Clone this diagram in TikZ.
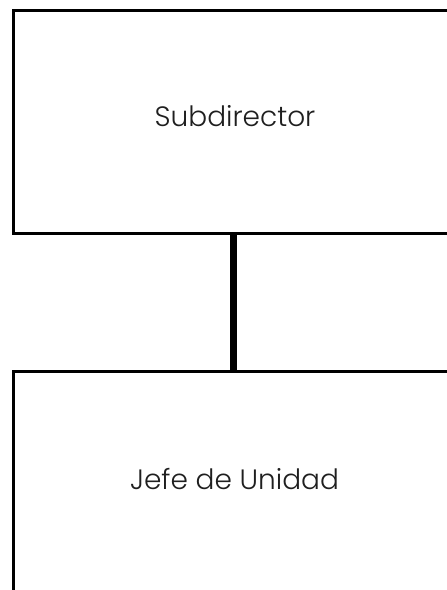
\documentclass[tikz,border=0pt]{standalone}
\usepackage{fontspec}
\setmainfont{Poppins Light}
\begin{document}
\begin{tikzpicture}[x=1pt,y=1pt,
  boxst/.style={draw=black, line width=3pt, rectangle, inner sep=0pt, fill=white},
  lbl/.style={font=\fontsize{28}{33}\selectfont, text=black!88},
  conn/.style={draw=black, line width=7pt}]
\useasboundingbox (0,0) rectangle (447,590);
\node[boxst, minimum width=470pt, minimum height=223pt, anchor=north west] (top) at (11.5,581) {};
\node[boxst, minimum width=470pt, minimum height=260pt, anchor=north west] (bot) at (11.5,219.5) {};
\node[lbl] (ttop) at (235,474) {Subdirector};
\node[lbl] (tbot) at (234.5,111) {Jefe de Unidad};
\draw[conn] (top.south -| 233.5,0) -- (bot.north -| 233.5,0);
\end{tikzpicture}
\end{document}
